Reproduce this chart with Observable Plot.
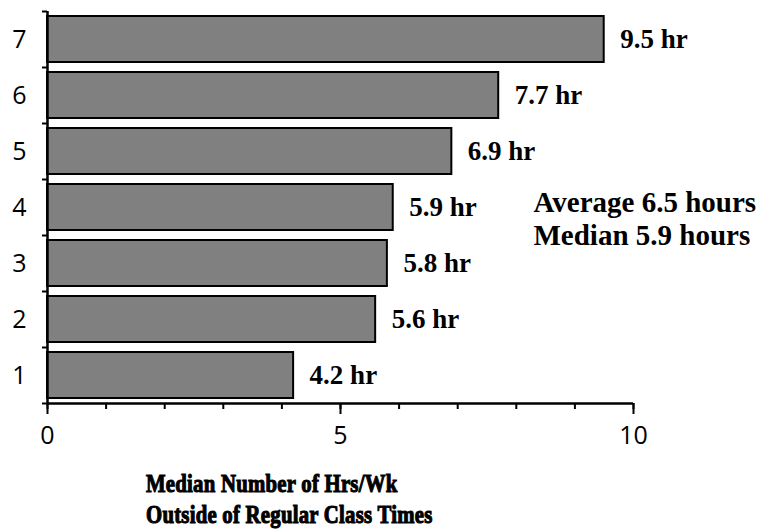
<!DOCTYPE html>
<html>
<head>
<meta charset="utf-8">
<script src="https://cdn.jsdelivr.net/npm/d3@7"></script>
<script src="https://cdn.jsdelivr.net/npm/@observablehq/plot@0.6"></script>
<style>
  body { margin: 0; background: #fff; }
  #chart { width: 763px; }
  .title {
    font-family: "Liberation Serif", serif;
    font-weight: bold;
    font-size: 25px;
    line-height: 31px;
    padding-left: 146px;
    margin-top: 8px;
    -webkit-text-stroke: 1.1px #000;
    color: #000;
  }
  .title div { transform: scaleX(0.83); transform-origin: left center; white-space: nowrap; letter-spacing: 0.3px; }
</style>
</head>
<body>
<div id="chart"></div>
<script>
const categories = ["1", "2", "3", "4", "5", "6", "7"];
const values = [4.2, 5.6, 5.8, 5.9, 6.9, 7.7, 9.5];
const xMajorTicks = [0, 5, 10];
const xMinorTicks = [0, 1, 2, 3, 4, 5, 6, 7, 8, 9, 10];
const noteLines = ["Average 6.5 hours", "Median 5.9 hours"];
const titleLines = ["Median Number of Hrs/Wk", "Outside of Regular Class Times"];

const data = categories.map((c, i) => ({ cat: +c, value: values[i], label: values[i].toFixed(1) + " hr" }));
const yBoundaries = d3.range(0, categories.length + 1);
const yCenters = categories.map(c => +c - 0.5);

const plot = Plot.plot({
  width: 763,
  height: 460,
  marginTop: 11,
  marginBottom: 57,
  marginLeft: 47,
  marginRight: 130,
  style: { background: "#fff", overflow: "visible" },
  x: { domain: [0, 10], label: null },
  y: { domain: [0, categories.length], label: null },
  marks: [
    Plot.rectX(data, {
      x1: 0, x2: "value",
      y1: d => d.cat - 1, y2: "cat",
      insetTop: 5, insetBottom: 5,
      fill: "#808080", stroke: "#000", strokeWidth: 2
    }),
    Plot.text(data, {
      x: "value", y: d => d.cat - 0.5, text: "label",
      dx: 16, textAnchor: "start",
      fontFamily: "Liberation Serif", fontWeight: "bold", fontSize: 27, fill: "#000"
    }),
    Plot.text([noteLines.join("\n")], {
      frameAnchor: "left", dx: 486, dy: 10, textAnchor: "start", lineHeight: 1.14,
      fontFamily: "Liberation Serif", fontWeight: "bold", fontSize: 29, fill: "#000"
    }),
    Plot.axisY({ ticks: yBoundaries, tickSize: 5, tickFormat: () => "", strokeWidth: 2, label: null }),
    Plot.axisY({ ticks: yCenters, tickSize: 0, tickPadding: 21, tickFormat: d => categories[Math.round(d - 0.5)],
      fontSize: 25, fontFamily: "Open Sans", fill: "#000", label: null }),
    Plot.axisX({ ticks: xMinorTicks, tickSize: 6, tickFormat: () => "", strokeWidth: 2, label: null }),
    Plot.axisX({ ticks: xMajorTicks, tickSize: 11, tickPadding: 12, strokeWidth: 2,
      fontSize: 25, fontFamily: "Open Sans", fill: "#000", label: null }),
    Plot.ruleX([0], { stroke: "#000", strokeWidth: 2.5 }),
    Plot.ruleY([0], { stroke: "#000", strokeWidth: 2.5 })
  ]
});

const chart = document.getElementById("chart");
chart.appendChild(plot);
const title = document.createElement("div");
title.className = "title";
titleLines.forEach(t => { const d = document.createElement("div"); d.textContent = t; title.appendChild(d); });
chart.appendChild(title);
</script>
</body>
</html>
